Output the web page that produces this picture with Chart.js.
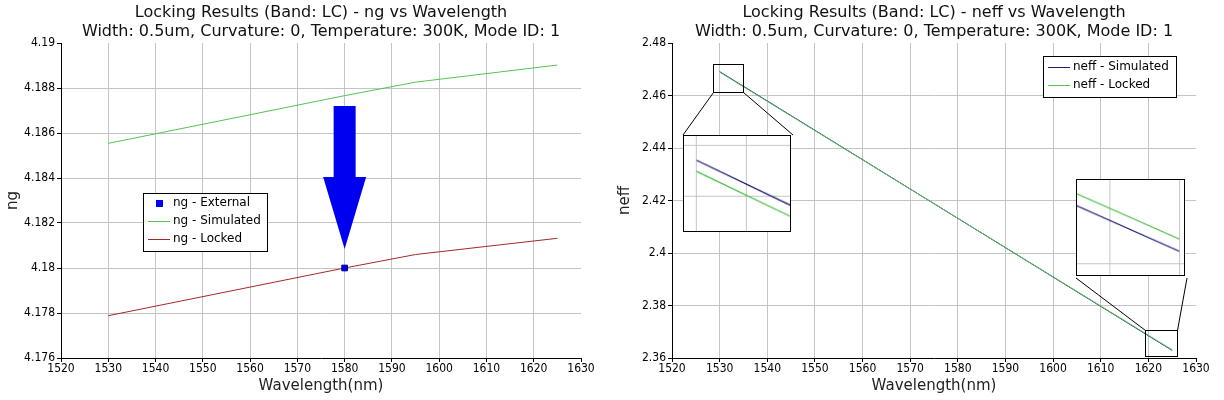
<!DOCTYPE html>
<html>
<head>
<meta charset="utf-8">
<script src="https://cdn.jsdelivr.net/npm/chart.js@4/dist/chart.umd.min.js"></script>
<style>
body { margin: 0; background: #fff; }
#wrap { position: relative; width: 1224px; height: 400px; overflow: hidden; }
#wrap canvas { position: absolute; }
.inset { border: 1px solid #000; background: #fff; }
</style>
</head>
<body>
<div id="wrap">
  <canvas id="ngChart" width="612" height="400" style="left:0;top:0"></canvas>
  <canvas id="neffChart" width="612" height="400" style="left:612px;top:0"></canvas>
  <canvas id="insetLeft" class="inset" width="108" height="97" style="left:683px;top:135px"></canvas>
  <canvas id="insetRight" class="inset" width="109" height="97" style="left:1076px;top:179px"></canvas>
</div>
<script>
// Data
const wavelengthNg = [1530, 1580, 1595, 1625];
const ngSimulated = [4.18554, 4.18766, 4.18826, 4.18902];
const ngLocked = [4.17788, 4.18000, 4.18060, 4.18132];
const externalWavelength = [1580];
const ngExternal = [4.18];

const wavelengthNeff = [1530, 1625];
const neffSimulated = [2.4691, 2.3629];
const neffLocked = [2.4689, 2.3631];

// Tick values
const wavelengthTicks = [1520, 1530, 1540, 1550, 1560, 1570, 1580, 1590, 1600, 1610, 1620, 1630];
const ngTicks = [4.176, 4.178, 4.18, 4.182, 4.184, 4.186, 4.188, 4.19];
const neffTicks = [2.36, 2.38, 2.4, 2.42, 2.44, 2.46, 2.48];

// Arrow pointing at the external point (x, top, head start, tip)
const arrowNg = [1580, 4.1872, 4.18404, 4.18084];

// Zoom regions on the neff plot: [xMin, xMax, yMin, yMax]
const zoomLeft = [1528.6, 1534.9, 2.46152, 2.47219];
const zoomRight = [1619.3, 1626.0, 2.36095, 2.37048];
// What the insets show, and their grid lines
const insetLeftRange = [1529.904, 1530.714, 2.46784, 2.46953];
const insetLeftGridX = [1530, 1530.383];
const insetLeftGridY = [2.46936, 2.46845];
const insetRightRange = [1624.333, 1625.031, 2.36251, 2.36407];
const insetRightGridX = [1624.547, 1625];
const insetRightGridY = [2.36270];

const GREEN = '#55c255';
const RED = '#a3282a';
const NAVY = '#1c1c7c';
const BLUE = '#0000f0';
const GRID = '#c4c4c4';
const TICK_FONT = { family: '"DejaVu Sans Condensed", "DejaVu Sans", sans-serif', size: 12 };
const AXIS_FONT = { family: '"DejaVu Sans", sans-serif', size: 15 };

Chart.defaults.font.family = '"DejaVu Sans", sans-serif';
Chart.defaults.color = '#000';

function pairs(xs, ys) {
    return xs.map((x, i) => ({ x: x, y: ys[i] }));
}

function fmt(v) {
    return String(Number(v.toFixed(3)));
}

// Axis options shared by both main charts
function mainScales(yTicks, yTitle, yWidth) {
    const gridColor = function(max) {
        return function(ctx) {
            if (ctx.tick && Math.abs(ctx.tick.value - max) < 1e-9) return 'rgba(0,0,0,0)';
            return GRID;
        };
    };
    const xMax = wavelengthTicks[wavelengthTicks.length - 1];
    const yMax = yTicks[yTicks.length - 1];
    return {
        x: {
            type: 'linear',
            min: wavelengthTicks[0],
            max: xMax,
            afterBuildTicks: s => { s.ticks = wavelengthTicks.map(v => ({ value: v })); },
            afterFit: s => { s.height = 42; },
            ticks: { font: TICK_FONT, color: '#000', padding: 0, maxRotation: 0, autoSkip: false, callback: v => String(v) },
            grid: { color: gridColor(xMax), tickColor: '#000', tickLength: 4, lineWidth: 1 },
            border: { color: '#000', width: 1 },
            title: { display: true, text: 'Wavelength(nm)', font: AXIS_FONT, color: '#222', padding: { top: 0, bottom: 5 } }
        },
        y: {
            type: 'linear',
            min: yTicks[0],
            max: yMax,
            afterBuildTicks: s => { s.ticks = yTicks.map(v => ({ value: v })); },
            afterFit: s => { s.width = yWidth; },
            ticks: { font: TICK_FONT, color: '#000', padding: 2, autoSkip: false, callback: v => fmt(v) },
            grid: { color: gridColor(yMax), tickColor: '#000', tickLength: 4, lineWidth: 1 },
            border: { color: '#000', width: 1 },
            title: { display: true, text: yTitle, font: AXIS_FONT, color: '#222', padding: { top: 4, bottom: 0 } }
        }
    };
}

function drawTitle(chart, lines) {
    const ctx = chart.ctx;
    const a = chart.chartArea;
    const cx = (a.left + a.right) / 2;
    ctx.save();
    ctx.font = '16px "DejaVu Sans", sans-serif';
    ctx.fillStyle = '#111';
    ctx.textAlign = 'center';
    ctx.textBaseline = 'middle';
    ctx.fillText(lines[0], cx, 13);
    ctx.fillText(lines[1], cx, 32);
    ctx.restore();
}

// Boxed legend inside the plot
function drawLegend(chart, box, items) {
    const ctx = chart.ctx;
    ctx.save();
    ctx.fillStyle = '#fff';
    ctx.fillRect(box.x, box.y, box.w, box.h);
    ctx.strokeStyle = '#000';
    ctx.lineWidth = 1;
    ctx.strokeRect(box.x + 0.5, box.y + 0.5, box.w, box.h);
    ctx.font = '12px "DejaVu Sans", sans-serif';
    ctx.textBaseline = 'middle';
    items.forEach((it, i) => {
        const y = box.y + box.first + i * box.step;
        if (it.type === 'rect') {
            ctx.fillStyle = it.color;
            ctx.fillRect(box.x + 13, Math.round(y) - 3, 7, 7);
        } else {
            ctx.strokeStyle = it.color;
            ctx.beginPath();
            ctx.moveTo(box.x + 5, Math.round(y) + 0.5);
            ctx.lineTo(box.x + 27, Math.round(y) + 0.5);
            ctx.stroke();
        }
        ctx.fillStyle = '#000';
        ctx.fillText(it.label, box.x + 30, y);
    });
    ctx.restore();
}

const ngDecor = {
    id: 'ngDecor',
    afterDatasetsDraw(chart) {
        const ctx = chart.ctx;
        const xs = chart.scales.x, ys = chart.scales.y;
        const x = xs.getPixelForValue(arrowNg[0]);
        const yTop = ys.getPixelForValue(arrowNg[1]);
        const yHead = ys.getPixelForValue(arrowNg[2]);
        const yTip = ys.getPixelForValue(arrowNg[3]);
        ctx.save();
        ctx.fillStyle = BLUE;
        ctx.beginPath();
        ctx.moveTo(x - 11, yTop);
        ctx.lineTo(x + 11, yTop);
        ctx.lineTo(x + 11, yHead);
        ctx.lineTo(x + 21.5, yHead);
        ctx.lineTo(x, yTip);
        ctx.lineTo(x - 21.5, yHead);
        ctx.lineTo(x - 11, yHead);
        ctx.closePath();
        ctx.fill();
        ctx.restore();
        drawLegend(chart, { x: 143, y: 193, w: 124, h: 58, first: 10, step: 18 }, [
            { label: 'ng - External', type: 'rect', color: BLUE },
            { label: 'ng - Simulated', type: 'line', color: GREEN },
            { label: 'ng - Locked', type: 'line', color: RED }
        ]);
    },
    afterDraw(chart) {
        drawTitle(chart, ['Locking Results (Band: LC) - ng vs Wavelength',
            'Width: 0.5um, Curvature: 0, Temperature: 300K, Mode ID: 1']);
    }
};

// Inset boxes in neff canvas coordinates
const insetLeftBox = { left: 71, top: 135, width: 110, height: 99 };
const insetRightBox = { left: 464, top: 179, width: 111, height: 99 };

const neffDecor = {
    id: 'neffDecor',
    afterDatasetsDraw(chart) {
        const ctx = chart.ctx;
        const xs = chart.scales.x, ys = chart.scales.y;
        const rect = z => ({
            l: Math.round(xs.getPixelForValue(z[0])) + 0.5,
            r: Math.round(xs.getPixelForValue(z[1])) + 0.5,
            b: Math.round(ys.getPixelForValue(z[2])) + 0.5,
            t: Math.round(ys.getPixelForValue(z[3])) + 0.5
        });
        const a = rect(zoomLeft), b = rect(zoomRight);
        ctx.save();
        ctx.strokeStyle = '#000';
        ctx.lineWidth = 1;
        ctx.strokeRect(a.l, a.t, a.r - a.l, a.b - a.t);
        ctx.strokeRect(b.l, b.t, b.r - b.l, b.b - b.t);
        ctx.beginPath();
        // left zoom: rect bottom corners to inset top corners
        ctx.moveTo(a.l, a.b);
        ctx.lineTo(insetLeftBox.left, insetLeftBox.top);
        ctx.moveTo(a.r, a.b);
        ctx.lineTo(insetLeftBox.left + insetLeftBox.width, insetLeftBox.top);
        // right zoom: rect top corners to inset bottom corners
        ctx.moveTo(b.l, b.t);
        ctx.lineTo(insetRightBox.left, insetRightBox.top + insetRightBox.height);
        ctx.moveTo(b.r, b.t);
        ctx.lineTo(insetRightBox.left + insetRightBox.width, insetRightBox.top + insetRightBox.height);
        ctx.stroke();
        ctx.restore();
        drawLegend(chart, { x: 431, y: 56, w: 133, h: 41, first: 11, step: 17.5 }, [
            { label: 'neff - Simulated', type: 'line', color: NAVY },
            { label: 'neff - Locked', type: 'line', color: GREEN }
        ]);
    },
    afterDraw(chart) {
        drawTitle(chart, ['Locking Results (Band: LC) - neff vs Wavelength',
            'Width: 0.5um, Curvature: 0, Temperature: 300K, Mode ID: 1']);
    }
};

function lineSet(label, xs, ys, color, width) {
    return {
        label: label,
        data: pairs(xs, ys),
        borderColor: color,
        backgroundColor: color,
        borderWidth: width || 1,
        pointRadius: 0,
        tension: 0,
        fill: false
    };
}

new Chart(document.getElementById('ngChart'), {
    type: 'line',
    data: {
        datasets: [
            {
                label: 'ng - External',
                data: pairs(externalWavelength, ngExternal),
                showLine: false,
                pointStyle: 'rect',
                pointRadius: 4,
                backgroundColor: BLUE,
                borderColor: '#00008a',
                borderWidth: 1
            },
            lineSet('ng - Simulated', wavelengthNg, ngSimulated, GREEN),
            lineSet('ng - Locked', wavelengthNg, ngLocked, RED)
        ]
    },
    options: {
        responsive: false,
        animation: false,
        events: [],
        layout: { padding: { top: 43, right: 31, left: 0, bottom: 0 } },
        plugins: { legend: { display: false }, tooltip: { enabled: false } },
        scales: mainScales(ngTicks, 'ng', 61)
    },
    plugins: [ngDecor]
});

new Chart(document.getElementById('neffChart'), {
    type: 'line',
    data: {
        datasets: [
            lineSet('neff - Locked', wavelengthNeff, neffLocked, GREEN),
            lineSet('neff - Simulated', wavelengthNeff, neffSimulated, NAVY)
        ]
    },
    options: {
        responsive: false,
        animation: false,
        events: [],
        layout: { padding: { top: 43, right: 28, left: 0, bottom: 0 } },
        plugins: { legend: { display: false }, tooltip: { enabled: false } },
        scales: mainScales(neffTicks, 'neff', 60)
    },
    plugins: [neffDecor]
});

// Magnified views
function makeInset(id, range, gridX, gridY) {
    const hidden = {
        display: false
    };
    new Chart(document.getElementById(id), {
        type: 'line',
        data: {
            datasets: [
                lineSet('neff - Simulated', wavelengthNeff, neffSimulated, '#101070', 1.2),
                lineSet('neff - Locked', wavelengthNeff, neffLocked, '#44bb44', 1.2)
            ]
        },
        options: {
            responsive: false,
            animation: false,
            events: [],
            layout: { padding: 0 },
            plugins: { legend: { display: false }, tooltip: { enabled: false } },
            scales: {
                x: {
                    type: 'linear', min: range[0], max: range[1],
                    afterBuildTicks: s => { s.ticks = gridX.map(v => ({ value: v })); },
                    afterFit: s => { s.height = 0; },
                    ticks: hidden,
                    grid: { color: GRID, drawTicks: false },
                    border: { display: false }
                },
                y: {
                    type: 'linear', min: range[2], max: range[3],
                    afterBuildTicks: s => { s.ticks = gridY.map(v => ({ value: v })); },
                    afterFit: s => { s.width = 0; },
                    ticks: hidden,
                    grid: { color: GRID, drawTicks: false },
                    border: { display: false }
                }
            }
        }
    });
}

makeInset('insetLeft', insetLeftRange, insetLeftGridX, insetLeftGridY);
makeInset('insetRight', insetRightRange, insetRightGridX, insetRightGridY);
</script>
</body>
</html>
